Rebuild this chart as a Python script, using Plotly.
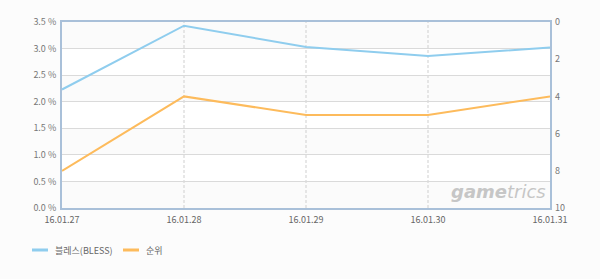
import plotly.graph_objects as go

dates = ["16.01.27", "16.01.28", "16.01.29", "16.01.30", "16.01.31"]
share = [2.23, 3.43, 3.03, 2.86, 3.02]
rank = [8, 4, 5, 5, 4]
left_ticks = [0, 0.5, 1.0, 1.5, 2.0, 2.5, 3.0, 3.5]
right_ticks = [0, 2, 4, 6, 8, 10]
series_names = ["블레스(BLESS)", "순위"]
series_colors = ["#8fcdee", "#fdbb5c"]

FONT = "Noto Sans CJK KR, Noto Sans, sans-serif"
W, H, L, R, T, B = 600, 279, 62, 50, 22, 71
PW, PH = W - L - R, H - T - B


def px_to_paper_x(px):
    return (px - L) / PW


def px_to_paper_y(py):
    return (H - B - py) / PH


fig = go.Figure()
fig.add_trace(go.Scatter(x=dates, y=share, name=series_names[0], mode="lines",
                         line=dict(color=series_colors[0], width=2), yaxis="y"))
fig.add_trace(go.Scatter(x=dates, y=rank, name=series_names[1], mode="lines",
                         line=dict(color=series_colors[1], width=2), yaxis="y2"))

shapes = []
for i in range(0, len(left_ticks) - 1, 2):
    shapes.append(dict(type="rect", xref="paper", yref="y", x0=0, x1=1,
                       y0=left_ticks[i], y1=left_ticks[i + 1],
                       fillcolor="#fbfbfb", line=dict(width=0), layer="below"))
for d in dates[1:-1]:
    shapes.append(dict(type="line", xref="x", yref="paper", x0=d, x1=d, y0=0, y1=1,
                       line=dict(color="#cfcfcf", width=1, dash="3px,2px"), layer="below"))

# manual legend
annotations = []
leg_y = px_to_paper_y(250)
for (x0, x1, xt), name, col in zip([(32, 48, 53), (123, 139, 144)], series_names, series_colors):
    shapes.append(dict(type="line", xref="paper", yref="paper",
                       x0=px_to_paper_x(x0), x1=px_to_paper_x(x1), y0=leg_y, y1=leg_y,
                       line=dict(color=col, width=3)))
    annotations.append(dict(text=name, xref="paper", yref="paper", x=px_to_paper_x(xt),
                            y=leg_y, xanchor="left", yanchor="middle", showarrow=False,
                            font=dict(size=9, color="#666666")))

annotations.append(dict(text="<b><i>game</i></b><i>trics</i>", xref="paper", yref="paper",
                        x=px_to_paper_x(498), y=px_to_paper_y(191), xanchor="center",
                        yanchor="middle", showarrow=False,
                        font=dict(size=18, color="#c6c6c6", family="DejaVu Sans")))

fig.update_layout(
    width=W, height=H,
    margin=dict(l=L, r=R, t=T, b=B),
    paper_bgcolor="#fcfcfc", plot_bgcolor="#ffffff",
    font=dict(family=FONT, size=9, color="#777777"),
    shapes=shapes,
    annotations=annotations,
    showlegend=False,
    xaxis=dict(type="category", range=[0, 4], showgrid=False, showline=True,
               linecolor="#a9c0d9", linewidth=2, mirror=True, ticks="",
               tickfont=dict(size=9, color="#666666"), ticklabelstandoff=2,
               zeroline=False, fixedrange=True),
    yaxis=dict(range=[0, 3.5], tickvals=left_ticks,
               ticktext=[f"{v:.1f} %" for v in left_ticks],
               showgrid=True, gridcolor="#dadada", gridwidth=1,
               showline=True, linecolor="#a9c0d9", linewidth=2, mirror=True,
               zeroline=False, tickfont=dict(size=9, color="#777777"), ticks="",
               ticklabelstandoff=2),
    yaxis2=dict(overlaying="y", side="right", range=[10, 0], tickvals=right_ticks,
                showgrid=False, zeroline=False, showline=False,
                tickfont=dict(size=9, color="#777777"), ticks="", ticklabelstandoff=4),
)
fig.write_html("out.html")
